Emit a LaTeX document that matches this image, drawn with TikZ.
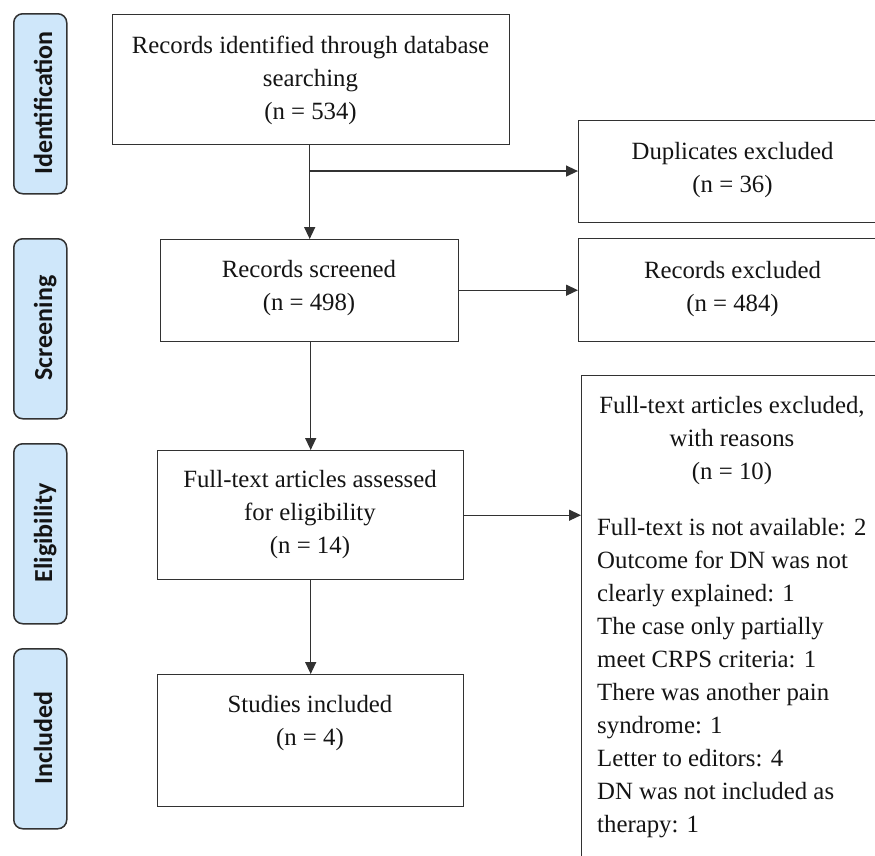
\documentclass[tikz,border=0pt]{standalone}
\usepackage{fontspec}
\setmainfont{Liberation Serif}
\newfontfamily\phasefont{Carlito}
\usetikzlibrary{arrows.meta,calc}
\definecolor{phasefill}{RGB}{207,231,250}
\definecolor{edge}{RGB}{50,50,50}
\definecolor{ink}{RGB}{20,20,20}
\begin{document}
\begin{tikzpicture}[x=1pt,y=-1pt,
  box/.style={draw=edge, line width=1.4pt, anchor=north west, inner sep=0pt},
  txt/.style={text=ink, font=\fontsize{24.8pt}{32.8pt}\selectfont, align=center, inner sep=0pt, anchor=north},
  listtxt/.style={text=ink, font=\fontsize{24.8pt}{33pt}\selectfont, align=left, inner sep=0pt, anchor=north west},
  phase/.style={draw=edge, line width=1.5pt, fill=phasefill, rounded corners=9pt, anchor=north west, inner sep=0pt, minimum width=53pt, minimum height=180pt},
  phasetxt/.style={text=ink, font=\phasefont\bfseries\fontsize{26pt}{30pt}\selectfont, rotate=90, anchor=base, inner sep=0pt},
  arr/.style={draw=edge, line width=1.4pt, -{Triangle[length=12pt,width=11pt]}}]
\useasboundingbox (0,0) rectangle (875,855);
\clip (0,0) rectangle (875,855);

% phase labels
\node[phase] (p1) at (13,13) {};
\node[phase] (p2) at (13,238) {};
\node[phase] (p3) at (13,443) {};
\node[phase] (p4) at (13,648) {};
\node[phasetxt] (p1t) at (52,103) {Identification};
\node[phasetxt] (p2t) at (52,328) {Screening};
\node[phasetxt] (p3t) at (52,533) {Eligibility};
\node[phasetxt] (p4t) at (52,738) {Included};

% boxes
\node[box, minimum width=397pt, minimum height=130pt] (b1) at (112,14) {};
\node[box, minimum width=309pt, minimum height=102pt] (dup) at (578,120) {};
\node[box, minimum width=298pt, minimum height=102pt] (scr) at (160,239) {};
\node[box, minimum width=309pt, minimum height=103pt] (rex) at (578,238) {};
\node[box, minimum width=306pt, minimum height=129pt] (elig) at (157,450) {};
\node[box, minimum width=306pt, minimum height=520pt] (ftex) at (581,375) {};
\node[box, minimum width=306pt, minimum height=132pt] (inc) at (157,674) {};

% texts
\node[txt] (b1t) at (310.5,36) {Records identified through database\\searching\\(n = 534)};
\node[txt] (dupt) at (732.5,142) {Duplicates excluded\\(n = 36)};
\node[txt] (scrt) at (309,260) {Records screened\\(n = 498)};
\node[txt] (rext) at (732.5,261) {Records excluded\\(n = 484)};
\node[txt] (eligt) at (310,470) {Full-text articles assessed\\for eligibility\\(n = 14)};
\node[txt] (inct) at (310,695) {Studies included\\(n = 4)};
\node[txt] (ftext) at (732,396) {Full-text articles excluded,\\with reasons\\(n = 10)};
\node[listtxt] (ftexl) at (597,518) {Full-text is not available: 2\\Outcome for DN was not\\clearly explained: 1\\The case only partially\\meet CRPS criteria: 1\\There was another pain\\syndrome: 1\\Letter to editors: 4\\DN was not included as\\therapy: 1};

% connectors
\coordinate (br) at ($(b1.south -| scr.north)!0.274!(scr.north)$);
\draw[arr] (b1.south -| scr.north) -- (scr.north);
\draw[arr] (br) -- (br -| dup.west);
\draw[arr] (scr.east |- rex.west) -- (rex.west);
\draw[arr] (scr.south -| elig.north) -- (elig.north);
\draw[arr] (elig.east) -- (elig.east -| ftex.west);
\draw[arr] (elig.south) -- (inc.north);
\end{tikzpicture}
\end{document}
